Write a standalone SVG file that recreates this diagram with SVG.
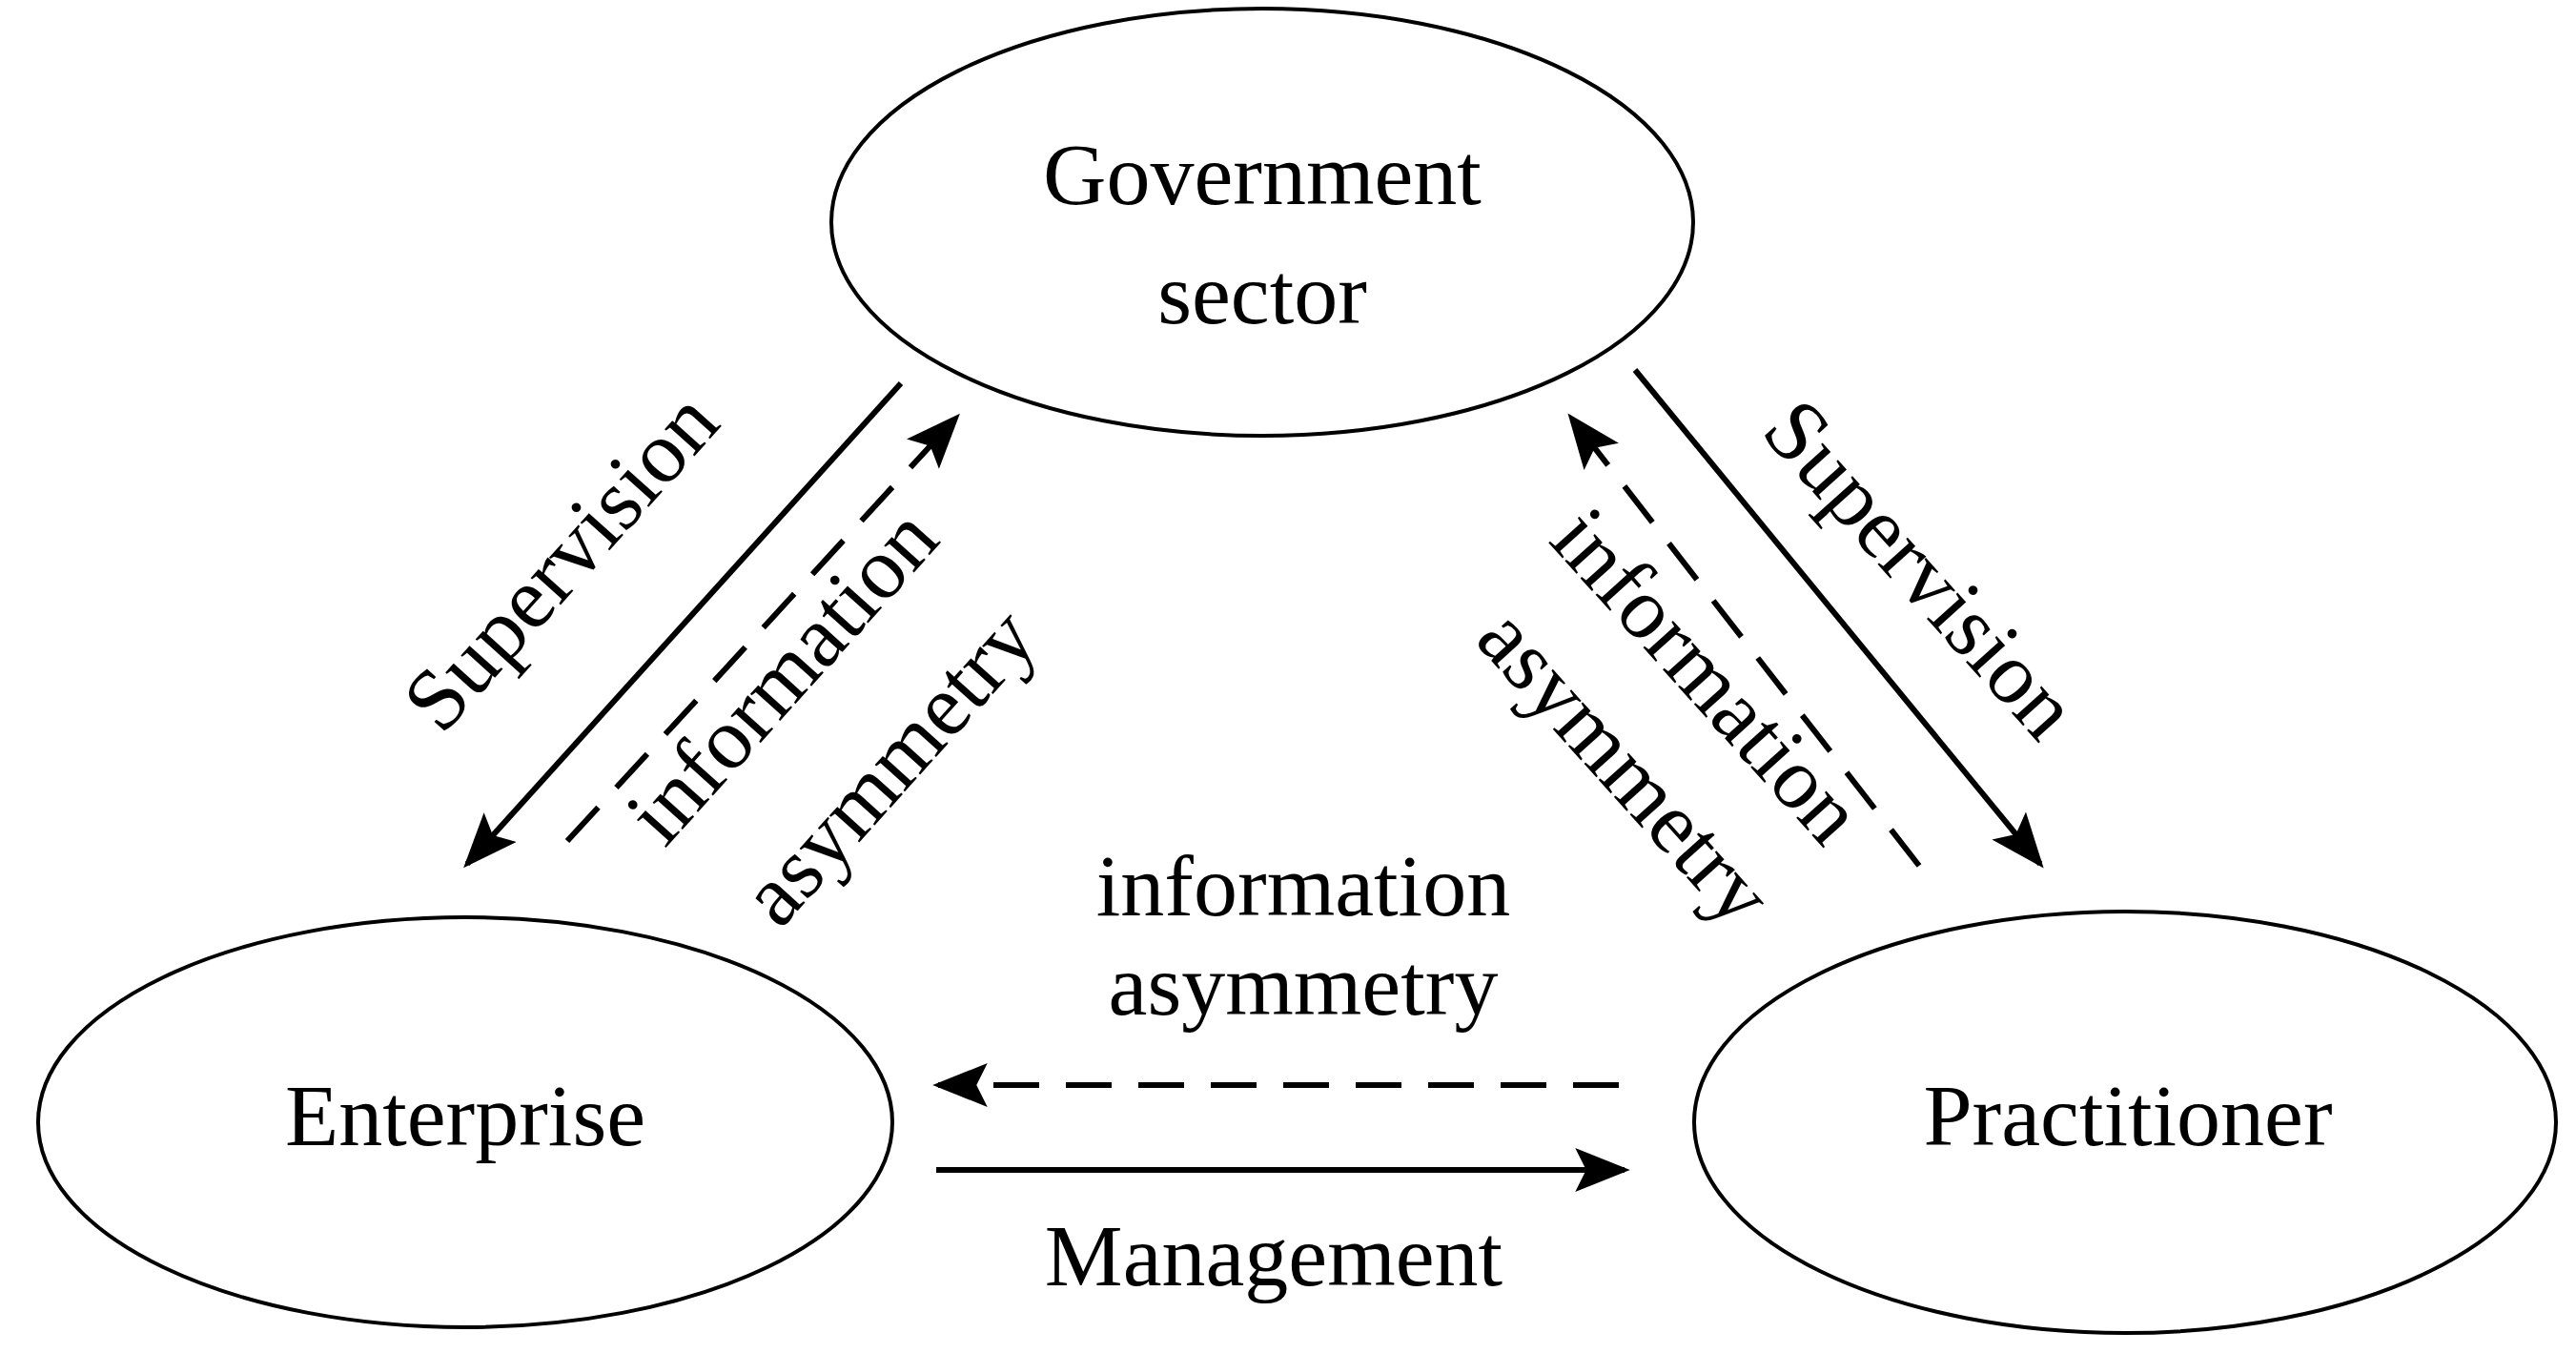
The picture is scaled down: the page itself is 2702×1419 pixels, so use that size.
<svg xmlns="http://www.w3.org/2000/svg" width="2702" height="1419" viewBox="0 0 2702 1419">
<style>
.n{fill:#fff;stroke:#000;stroke-width:4}
text{font-family:"Liberation Serif","Times New Roman",serif;font-size:92px;fill:#000;text-anchor:middle;dominant-baseline:middle}
.c{stroke:#000;stroke-width:6;fill:none}
.d{stroke-dasharray:48 28}
</style>
<defs><marker id="a" markerWidth="10" markerHeight="8" refX="9" refY="4" orient="auto" markerUnits="userSpaceOnUse" viewBox="0 0 10 8" style="overflow:visible"><path d="M0,0L10,4L0,8Z" fill="#000"/></marker>
<marker id="b" viewBox="0 0 10 8" markerWidth="58" markerHeight="46" refX="9" refY="4" orient="auto" markerUnits="userSpaceOnUse"><path d="M0,0L10,4L0,8L2,4Z" fill="#000"/></marker></defs>
<rect width="2702" height="1419" fill="#fff"/>
<g id="gov"><ellipse class="n" cx="1324" cy="233" rx="452" ry="224"/><text x="1324" y="193">Government</text><text x="1324" y="318">sector</text></g>
<g id="ent"><ellipse class="n" cx="488" cy="1177" rx="448" ry="215"/><text x="488" y="1180">Enterprise</text></g>
<g id="pra"><ellipse class="n" cx="2229" cy="1177" rx="452" ry="221"/><text x="2232" y="1180">Practitioner</text></g>
<g id="connectors">
<line class="c" x1="945" y1="402" x2="490" y2="906" marker-end="url(#b)"/>
<line class="c d" x1="595" y1="882" x2="1003" y2="438" marker-end="url(#b)"/>
<line class="c" x1="1715" y1="388" x2="2140" y2="906" marker-end="url(#b)"/>
<line class="c d" x1="2013" y1="908" x2="1648" y2="438" marker-end="url(#b)"/>
<line class="c d" x1="1698" y1="1138" x2="984" y2="1138" marker-end="url(#b)"/>
<line class="c" x1="982" y1="1227" x2="1704" y2="1227" marker-end="url(#b)"/>
</g>
<g id="labels">
<text transform="translate(595,595) rotate(-48)">Supervision</text>
<text transform="translate(827,715) rotate(-48)">information</text>
<text transform="translate(939,810) rotate(-48)">asymmetry</text>
<text transform="translate(2008,603) rotate(48)">Supervision</text>
<text transform="translate(1784,715) rotate(48)">information</text>
<text transform="translate(1698,810) rotate(48)">asymmetry</text>
<text x="1367" y="939">information</text>
<text x="1367" y="1043">asymmetry</text>
<text x="1336" y="1327">Management</text>
</g>
</svg>
